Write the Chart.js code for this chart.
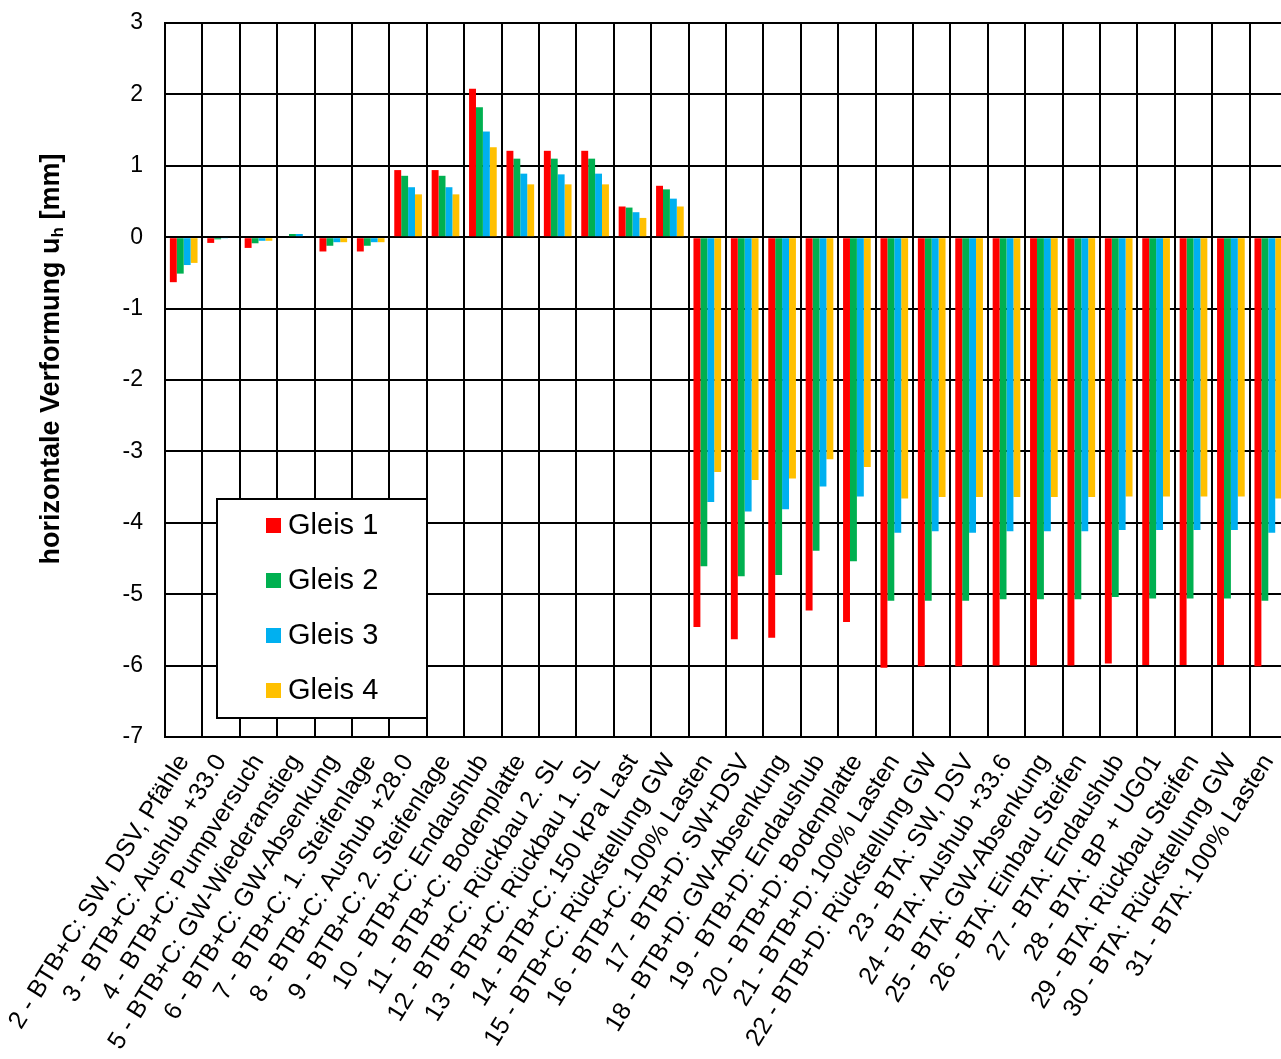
<!DOCTYPE html>
<html>
<head>
<meta charset="utf-8">
<script src="https://cdn.jsdelivr.net/npm/chart.js@4.4.1/dist/chart.umd.min.js"></script>
<style>
  html, body { margin: 0; padding: 0; background: #fff; overflow: hidden; }
  #wrap { width: 1300px; height: 1100px; }
</style>
</head>
<body>
<div id="wrap"><canvas id="chart" width="1300" height="1100"></canvas></div>
<script>
// ---------------------------------------------------------------------------
// Data
// ---------------------------------------------------------------------------
const STAGES = [
    '2 - BTB+C: SW, DSV, Pfähle', '3 - BTB+C: Aushub +33.0', '4 - BTB+C: Pumpversuch',
    '5 - BTB+C: GW-Wiederanstieg', '6 - BTB+C: GW-Absenkung', '7 - BTB+C: 1. Steifenlage',
    '8 - BTB+C: Aushub +28.0', '9 - BTB+C: 2. Steifenlage', '10 - BTB+C: Endaushub',
    '11 - BTB+C: Bodenplatte', '12 - BTB+C: Rückbau 2. SL', '13 - BTB+C: Rückbau 1. SL',
    '14 - BTB+C: 150 kPa Last', '15 - BTB+C: Rückstellung GW', '16 - BTB+C: 100% Lasten',
    '17 - BTB+D: SW+DSV', '18 - BTB+D: GW-Absenkung', '19 - BTB+D: Endaushub',
    '20 - BTB+D: Bodenplatte', '21 - BTB+D: 100% Lasten', '22 - BTB+D: Rückstellung GW',
    '23 - BTA: SW, DSV', '24 - BTA: Aushub +33.6', '25 - BTA: GW-Absenkung',
    '26 - BTA: Einbau Steifen', '27 - BTA: Endaushub', '28 - BTA: BP + UG01',
    '29 - BTA: Rückbau Steifen', '30 - BTA: Rückstellung GW', '31 - BTA: 100% Lasten',
];

const GLEIS_1 = [-0.63, -0.08, -0.15, 0, -0.20, -0.20, 0.94, 0.94, 2.08, 1.21, 1.21, 1.21, 0.43, 0.72,
    -5.46, -5.63, -5.61, -5.23, -5.39, -6.03, -6.01, -6.01, -6.00, -6.00, -6.00, -5.97, -5.99, -5.99, -5.99, -6.01];
const GLEIS_2 = [-0.51, -0.03, -0.085, 0.045, -0.12, -0.12, 0.86, 0.86, 1.82, 1.10, 1.10, 1.10, 0.415, 0.67,
    -4.61, -4.75, -4.73, -4.39, -4.54, -5.09, -5.09, -5.09, -5.07, -5.07, -5.07, -5.04, -5.06, -5.06, -5.06, -5.09];
const GLEIS_3 = [-0.39, -0.01, -0.05, 0.045, -0.07, -0.07, 0.70, 0.70, 1.48, 0.89, 0.88, 0.89, 0.35, 0.54,
    -3.71, -3.84, -3.81, -3.49, -3.63, -4.14, -4.12, -4.14, -4.12, -4.12, -4.12, -4.10, -4.10, -4.10, -4.10, -4.14];
const GLEIS_4 = [-0.36, 0, -0.05, 0, -0.07, -0.07, 0.60, 0.60, 1.26, 0.74, 0.74, 0.74, 0.27, 0.43,
    -3.29, -3.40, -3.38, -3.11, -3.22, -3.66, -3.64, -3.64, -3.64, -3.64, -3.64, -3.63, -3.63, -3.63, -3.63, -3.66];

const SERIES_NAMES = ['Gleis 1', 'Gleis 2', 'Gleis 3', 'Gleis 4'];
const SERIES_COLORS = ['#ff0000', '#00b050', '#00b0f0', '#ffc000'];

const Y_MIN = -7;
const Y_MAX = 3;

// ---------------------------------------------------------------------------
// Plugins
// ---------------------------------------------------------------------------
// y axis title with subscript h
const yTitlePlugin = {
    id: 'yTitle',
    afterDraw(chart) {
        const ctx = chart.ctx;
        const big = 'bold 27px "Liberation Sans", Arial, sans-serif';
        const small = 'bold 17px "Liberation Sans", Arial, sans-serif';
        const parts = [
            { t: 'horizontale Verformung u', f: big, dy: 0 },
            { t: 'h', f: small, dy: 6 },
            { t: ' [mm]', f: big, dy: 0 },
        ];
        let total = 0;
        parts.forEach(p => { ctx.font = p.f; p.w = ctx.measureText(p.t).width; total += p.w; });
        ctx.save();
        ctx.translate(52, 359);
        ctx.rotate(-Math.PI / 2);
        ctx.fillStyle = '#000';
        ctx.textBaseline = 'middle';
        ctx.textAlign = 'left';
        let x = -total / 2;
        parts.forEach(p => {
            ctx.font = p.f;
            ctx.fillText(p.t, x, p.dy);
            x += p.w;
        });
        ctx.restore();
    }
};

// boxed legend inside the plot, like the Excel one
const boxLegendPlugin = {
    id: 'boxLegend',
    afterDraw(chart) {
        const ctx = chart.ctx;
        const x0 = 217, y0 = 499, w = 210, h = 219;
        ctx.save();
        ctx.fillStyle = '#fff';
        ctx.fillRect(x0, y0, w, h);
        ctx.strokeStyle = '#000';
        ctx.lineWidth = 2;
        ctx.strokeRect(x0, y0, w, h);
        ctx.font = '29px "Liberation Sans", Arial, sans-serif';
        ctx.textBaseline = 'middle';
        ctx.textAlign = 'left';
        chart.data.datasets.forEach((ds, i) => {
            const cy = 525 + i * 55;
            ctx.fillStyle = ds.backgroundColor;
            ctx.fillRect(266, cy - 7, 15, 15);
            ctx.fillStyle = '#000';
            ctx.fillText(ds.label, 288, cy + 1);
        });
        ctx.restore();
    }
};

// ---------------------------------------------------------------------------
// Chart
// ---------------------------------------------------------------------------
Chart.defaults.font.family = '"Liberation Sans", Arial, sans-serif';
Chart.defaults.color = '#000';

const seriesValues = [GLEIS_1, GLEIS_2, GLEIS_3, GLEIS_4];
const datasets = seriesValues.map((vals, i) => ({
    label: SERIES_NAMES[i],
    data: vals,
    backgroundColor: SERIES_COLORS[i],
    borderWidth: 0,
    categoryPercentage: 0.74,
    barPercentage: 1.0,
}));

new Chart(document.getElementById('chart'), {
    type: 'bar',
    data: { labels: STAGES, datasets },
    options: {
        responsive: false,
        animation: false,
        devicePixelRatio: 1,
        layout: { padding: { top: 23, right: 13, left: 0, bottom: 0 } },
        plugins: {
            legend: { display: false },
            tooltip: { enabled: false },
        },
        scales: {
            x: {
                grid: { color: '#000', lineWidth: 2, drawTicks: false, offset: true },
                border: { color: '#000', width: 2 },
                ticks: {
                    autoSkip: false,
                    minRotation: 58,
                    maxRotation: 58,
                    padding: 12,
                    font: { size: 25 },
                },
                afterFit(scale) {
                    scale.height = 1100 - 737;
                    scale.paddingLeft = 0;
                    scale.paddingRight = 0;
                },
            },
            y: {
                min: Y_MIN,
                max: Y_MAX,
                grid: { color: '#000', lineWidth: 2, drawTicks: false },
                border: { color: '#000', width: 2 },
                ticks: { stepSize: 1, padding: 22, font: { size: 23 } },
                afterFit(scale) {
                    scale.width = 165;
                    scale.paddingTop = 0;
                    scale.paddingBottom = 0;
                },
            },
        },
    },
    plugins: [yTitlePlugin, boxLegendPlugin],
});
</script>
</body>
</html>
